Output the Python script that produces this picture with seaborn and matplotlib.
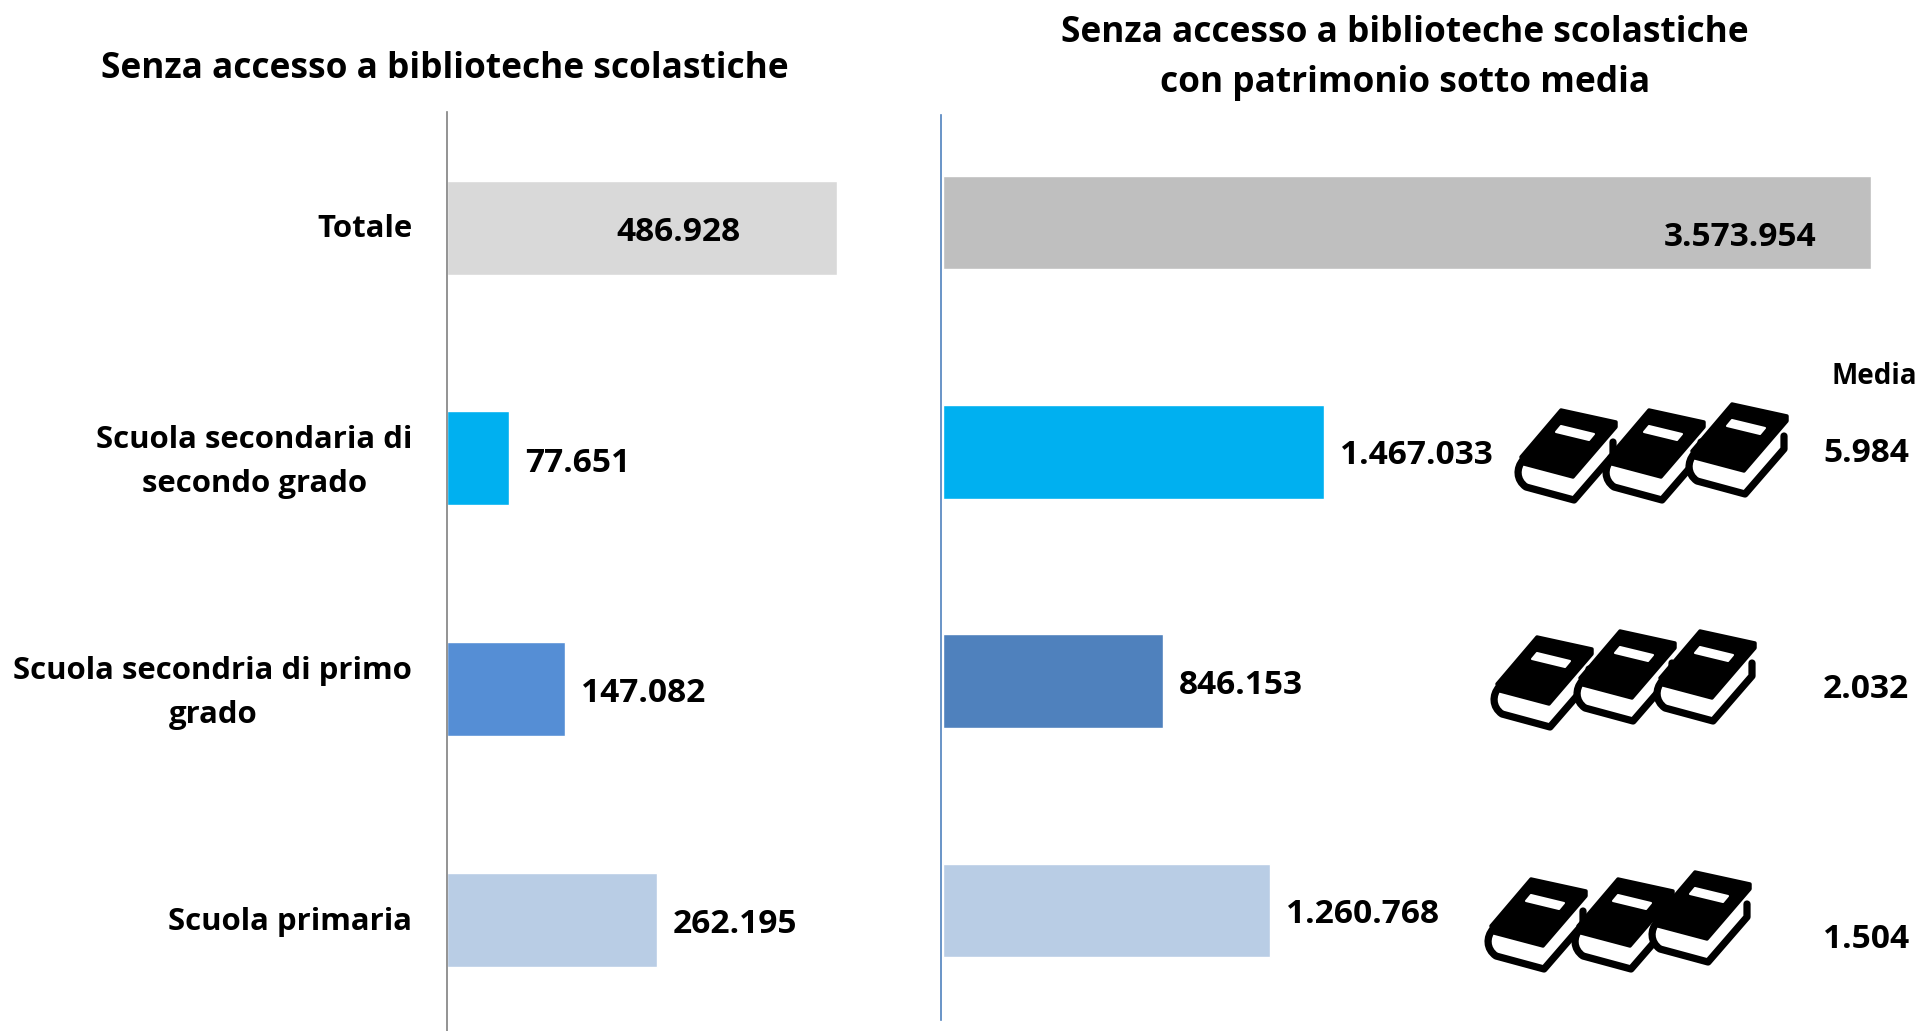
import numpy as np
import pandas as pd
import matplotlib
matplotlib.use("Agg")
import matplotlib.pyplot as plt
from matplotlib.path import Path
from matplotlib.patches import PathPatch
from matplotlib.transforms import ScaledTranslation
import seaborn as sns

W, H = 1916, 1031

categorie = ["Totale", "Scuola secondaria di\nsecondo grado",
             "Scuola secondria di primo\ngrado", "Scuola primaria"]
val_sx = [486928, 77651, 147082, 262195]
val_dx = [3573954, 1467033, 846153, 1260768]
etichette_sx = ["486.928", "77.651", "147.082", "262.195"]
etichette_dx = ["3.573.954", "1.467.033", "846.153", "1.260.768"]
media = ["5.984", "2.032", "1.504"]
colori_sx = ["#D9D9D9", "#00B0F0", "#558ED5", "#B9CDE5"]
colori_dx = ["#BFBFBF", "#00B0F0", "#4F81BD", "#B9CDE5"]

titolo_sx = "Senza accesso a biblioteche scolastiche"
titolo_dx = "Senza accesso a biblioteche scolastiche\ncon patrimonio sotto media"

sns.set_theme(style="white")
plt.rcParams["font.family"] = ["Open Sans", "DejaVu Sans"]
FS = 24.1
FS_TIT = 25.4
FS_CAT = 22.4

fig = plt.figure(figsize=(W / 100, H / 100), dpi=100)


# assi in pixel dell'immagine
def crea_assi(x0, x1, y0, y1):
    return fig.add_axes([x0 / W, 1 - y1 / H, (x1 - x0) / W, (y1 - y0) / H])


def disegna(ax, valori, colori, xmax, c0, passo, y0, y1, etichette, off, off_y, colore_asse):
    df = pd.DataFrame({"cat": categorie, "val": valori})
    sns.barplot(data=df, y="cat", x="val", hue="cat", palette=colori, legend=False,
                width=0.408, saturation=1, ax=ax)
    ax.set_xlim(0, xmax)
    ax.set_ylim((y1 - c0) / passo, (y0 - c0) / passo)
    ax.set_xlabel("")
    ax.set_ylabel("")
    ax.set_xticks([])
    sns.despine(ax=ax, top=True, right=True, bottom=True)
    ax.spines["left"].set_color(colore_asse)
    ax.spines["left"].set_linewidth(1.2)
    for i, v in enumerate(valori):
        ax.annotate(etichette[i], xy=(v, i), xytext=(off[i], off_y[i]), textcoords="offset pixels",
                    ha="left", va="center", fontsize=FS, fontweight="bold", color="black")


ax1 = crea_assi(447, 837, 112, 1031)
disegna(ax1, val_sx, colori_sx, 486928, 227.6, 230.7, 112, 1031, etichette_sx,
        [-221, 16, 16, 16], [-5, -5, -5, -5], "#808080")
ax1.set_yticks(range(4))
ax1.set_yticklabels(categorie, fontsize=FS_CAT, fontweight="bold", color="black",
                    ha="right", ma="center", linespacing=1.62)
ax1.tick_params(axis="y", length=0, pad=25)
# le etichette non stanno tutte al centro barra, spostamento in px verso l'alto
for t, su in zip(ax1.get_yticklabels(), [2, 7, 7, 1]):
    t.set_transform(t.get_transform() + ScaledTranslation(0, su / 100, fig.dpi_scale_trans))

ax2 = crea_assi(943, 1871, 115, 1020)
disegna(ax2, val_dx, colori_dx, 3573954, 222.6, 229.3, 115, 1020, etichette_dx,
        [-207, 16, 16, 16], [-15, -4, -4, -4], "#4F81BD")
ax2.spines["left"].set_position(("outward", 1.5))
ax2.set_yticks([])

# livello in pixel per titoli, media e libri
over = fig.add_axes([0, 0, 1, 1], facecolor="none")
over.set_xlim(0, W)
over.set_ylim(H, 0)
over.axis("off")

over.text(445, 69, titolo_sx, ha="center", va="center", fontsize=FS_TIT, fontweight="bold", color="black")
over.text(1405, 58, titolo_dx, ha="center", va="center", fontsize=FS_TIT, fontweight="bold",
          linespacing=1.5, color="black")
over.text(1832, 376, "Media", ha="left", va="center", fontsize=20, fontweight="bold", color="black")
for testo, y in zip(media, [454, 689, 940]):
    over.text(1823, y, testo, ha="left", va="center", fontsize=FS, fontweight="bold", color="black")

# sagoma del libro, coordinate locali in px
PAGINE = (np.array([(7, 50), (0, 58), (0, 70), (10, 77), (58, 90), (97, 45), (97, 32)], float),
          [Path.MOVETO, Path.CURVE4, Path.CURVE4, Path.CURVE4, Path.LINETO, Path.LINETO, Path.LINETO])
COPERTINA = np.array([(45, 0), (100, 12), (100, 17), (57, 67), (8, 54), (5, 47)], float)
TARGHETTA = np.array([(45, 16), (78, 24), (73, 30), (40, 22)], float)


def libro(x, y):
    o = np.array([x, y])
    over.add_patch(PathPatch(Path(PAGINE[0] + o, PAGINE[1]), fc="white", ec="black", lw=5.2,
                             capstyle="round", joinstyle="round"))
    over.add_patch(plt.Polygon(COPERTINA + o, closed=True, fc="black", ec="black", lw=2.5,
                               joinstyle="round"))
    over.add_patch(plt.Polygon(TARGHETTA + o, closed=True, fc="white", ec="white", lw=1.5,
                               joinstyle="round"))


pos_libri = [(1516, 410), (1604, 410), (1687, 404),
             (1492, 637), (1575, 631), (1655, 631),
             (1486, 879), (1573, 879), (1650, 872)]
for px, py in pos_libri:
    libro(px, py)

fig.savefig("out.png", dpi=100)
